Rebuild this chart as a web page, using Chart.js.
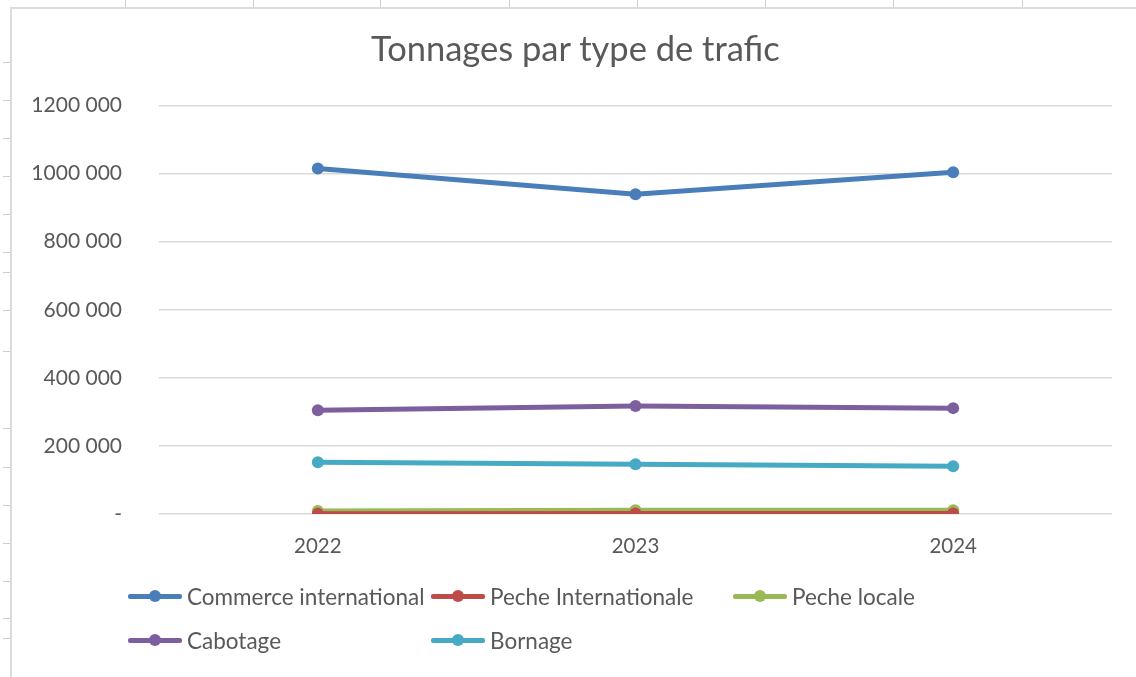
<!DOCTYPE html>
<html>
<head>
<meta charset="utf-8">
<script src="https://cdn.jsdelivr.net/npm/chart.js@4/dist/chart.umd.min.js"></script>
<style>
  html, body { margin: 0; padding: 0; background: #ffffff; }
  body { width: 1136px; height: 677px; position: relative; overflow: hidden; font-family: Lato, "Liberation Sans", sans-serif; }
  #frame { position: absolute; left: 10px; top: 7px; width: 1140px; height: 680px; border-left: 2px solid #dcdcdc; border-top: 2px solid #dcdcdc; box-sizing: border-box; }
  .vt { position: absolute; top: 0; width: 1px; height: 7px; background: #cfcfcf; }
  .ht { position: absolute; left: 3px; width: 7px; height: 1px; background: #cfcfcf; }
  #wrap { position: absolute; left: 0; top: 0; width: 1136px; height: 677px; }
  #title { position: absolute; left: 371px; width: 400px; top: 27px; text-align: center; white-space: nowrap; color: #595959; font-size: 34.5px; line-height: 41px; }
  #legend { position: absolute; left: 128px; top: 582px; display: grid; grid-template-columns: 303px 302px 302px; row-gap: 16px; color: #595959; font-size: 22.5px; }
  .item { display: flex; align-items: center; height: 28px; white-space: nowrap; }
  .sample { position: relative; width: 54px; height: 12px; margin-right: 5px; flex: none; }
  .sample .ln { position: absolute; left: 0; right: 0; top: 3.5px; height: 5px; border-radius: 2px; }
  .sample .dot { position: absolute; left: 21px; top: 0; width: 12px; height: 12px; border-radius: 50%; }
</style>
</head>
<body>
<div id="frame"></div>
<div id="ticks"></div>
<div id="wrap"><canvas id="c" width="1136" height="677"></canvas></div>
<div id="title"></div>
<div id="legend"></div>
<script>
// ---- data ----
const categories = ["2022", "2023", "2024"];
const seriesNames = ["Commerce international", "Peche Internationale", "Peche locale", "Cabotage", "Bornage"];
const commerceInternational = [1015000, 939000, 1004000];
const pecheInternationale = [1000, 1500, 1500];
const pecheLocale = [9000, 11000, 11000];
const cabotage = [305000, 317000, 311000];
const bornage = [152000, 146000, 140000];
const yTickLabels = ["-", "200 000", "400 000", "600 000", "800 000", "1000 000", "1200 000"];
const chartTitle = "Tonnages par type de trafic";

// ---- styles ----
const colors = ["#4a7ebb", "#be4b48", "#98b954", "#7d5fa0", "#46aac5"];
const seriesValues = [commerceInternational, pecheInternationale, pecheLocale, cabotage, bornage];
const textColor = "#595959";
const fontFamily = "Lato, 'Liberation Sans', sans-serif";

document.getElementById('title').textContent = chartTitle;

// spreadsheet decorations (cell lines around the chart object)
const ticksDiv = document.getElementById('ticks');
[125, 253, 380, 509, 637, 765, 893, 1022].forEach(x => {
  const d = document.createElement('div'); d.className = 'vt'; d.style.left = x + 'px'; ticksDiv.appendChild(d);
});
[62, 100, 138, 176, 214, 252, 272, 310, 351, 428, 467, 505, 543, 581, 618, 638].forEach(y => {
  const d = document.createElement('div'); d.className = 'ht'; d.style.top = y + 'px'; ticksDiv.appendChild(d);
});

const datasets = seriesNames.map((name, i) => ({
  label: name,
  data: seriesValues[i],
  borderColor: colors[i],
  backgroundColor: colors[i],
  borderWidth: 5,
  pointRadius: 6,
  pointHoverRadius: 6,
  pointBorderWidth: 0,
  tension: 0
}));

new Chart(document.getElementById('c'), {
  type: 'line',
  data: { labels: categories, datasets: datasets },
  options: {
    responsive: false,
    animation: false,
    events: [],
    layout: { padding: { left: 0, right: 24, top: 105.5, bottom: 0 } },
    plugins: {
      legend: { display: false },
      tooltip: { enabled: false },
      title: { display: false }
    },
    scales: {
      x: {
        type: 'category',
        offset: true,
        grid: { display: false, drawTicks: false },
        border: { display: false },
        ticks: { color: textColor, font: { family: fontFamily, size: 20.5 }, padding: 20, maxRotation: 0 },
        afterFit(scale) { scale.height = 163; }
      },
      y: {
        min: 0,
        max: 1200000,
        grid: { color: "#d9d9d9", lineWidth: 1.5, drawTicks: false },
        border: { display: false },
        ticks: {
          stepSize: 200000,
          color: textColor,
          font: { family: fontFamily, size: 21 },
          padding: 37,
          callback: (v, i) => yTickLabels[i]
        },
        afterFit(scale) { scale.width = 159; }
      }
    }
  }
});

// legend (built from the same series arrays)
const legend = document.getElementById('legend');
seriesNames.forEach((name, i) => {
  const it = document.createElement('div'); it.className = 'item';
  const s = document.createElement('div'); s.className = 'sample';
  const ln = document.createElement('div'); ln.className = 'ln'; ln.style.background = colors[i];
  const dot = document.createElement('div'); dot.className = 'dot'; dot.style.background = colors[i];
  s.appendChild(ln); s.appendChild(dot);
  const t = document.createElement('span'); t.textContent = name;
  it.appendChild(s); it.appendChild(t);
  legend.appendChild(it);
});
</script>
</body>
</html>
